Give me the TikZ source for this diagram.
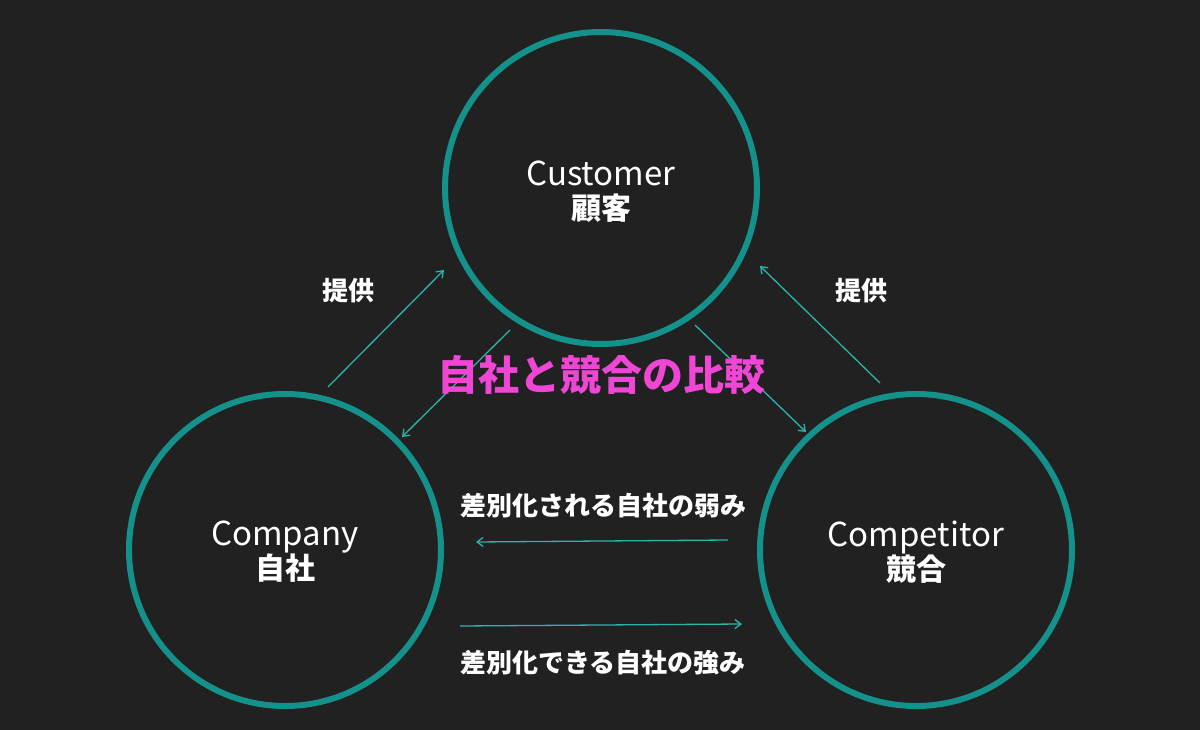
\documentclass[tikz,border=0pt]{standalone}
\usepackage{fontspec}
\setmainfont{Noto Sans CJK JP}
\usetikzlibrary{arrows.meta}
\definecolor{bg}{HTML}{212121}
\definecolor{teal}{HTML}{14918A}
\definecolor{arr}{HTML}{2BB5AA}
\definecolor{pink}{HTML}{F046D6}
\begin{document}
\begin{tikzpicture}[x=1pt,y=-1pt,
  circ/.style={circle,draw=teal,line width=6pt,minimum size=312pt,inner sep=0pt},
  ctext/.style={text=white,font=\fontsize{33}{38}\selectfont,align=center},
  lab/.style={text=white,font=\fontsize{26}{30}\bfseries\selectfont},
  ar/.style={draw=arr,line width=1.3pt,-{Straight Barb[length=6pt,width=9pt]}}]
\fill[bg] (0,0) rectangle (1200,730);
\useasboundingbox (0,0) rectangle (1200,730);
\node[circ] (cu) at (601,188) {};
\node[circ] (co) at (285,550) {};
\node[circ] (cp) at (916,550) {};
\node[ctext] (cut) at (601,192) {Customer\\[-4pt]{\fontsize{30}{34}\bfseries\selectfont 顧客}};
\node[ctext] (cot) at (285,552) {Company\\[-4pt]{\fontsize{30}{34}\bfseries\selectfont 自社}};
\node[ctext] (cpt) at (916,552) {Competitor\\[-4pt]{\fontsize{30}{34}\bfseries\selectfont 競合}};
\coordinate (a1) at (328,387); \coordinate (a2) at (444,270);
\coordinate (b1) at (510,330); \coordinate (b2) at (402,437);
\coordinate (c1) at (880,383); \coordinate (c2) at (760,266);
\coordinate (d1) at (695,325); \coordinate (d2) at (806,432);
\coordinate (e1) at (728,540); \coordinate (e2) at (476,542);
\coordinate (f1) at (460,626); \coordinate (f2) at (742,624);
\draw[ar] (a1) -- (a2);
\draw[ar] (b1) -- (b2);
\draw[ar] (c1) -- (c2);
\draw[ar] (d1) -- (d2);
\draw[ar] (e1) -- (e2);
\draw[ar] (f1) -- (f2);
\node[lab] (t1) at (348,291) {提供};
\node[lab] (t2) at (861,291) {提供};
\node[lab] (t3) at (603,506) {差別化される自社の弱み};
\node[lab] (t4) at (603,663) {差別化できる自社の強み};
\node[text=pink,font=\fontsize{41}{48}\bfseries\selectfont] (ti) at (601,375) {自社と競合の比較};
\end{tikzpicture}
\end{document}
